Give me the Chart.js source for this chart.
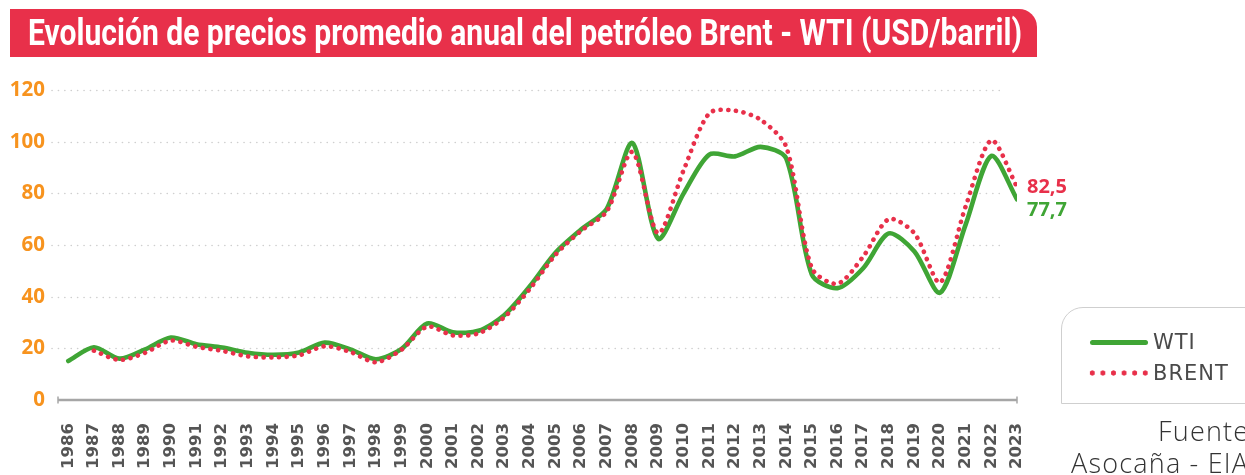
<!DOCTYPE html>
<html>
<head>
<meta charset="utf-8">
<script src="https://cdn.jsdelivr.net/npm/chart.js@4.4.1/dist/chart.umd.min.js"></script>
<style>
  html, body { margin: 0; padding: 0; background: #fff; overflow: hidden; }
  #wrap { position: relative; width: 1245px; height: 475px; overflow: hidden; }
  #titulo {
    position: absolute; left: 10px; top: 9px; width: 1027px; height: 48px;
    background: #E8304A; border-top-right-radius: 18px; overflow: hidden;
  }
  #titulo span {
    position: absolute; left: 18px; top: 4px; color: #fff; white-space: nowrap;
    font: bold 36px Roboto, "DejaVu Sans", sans-serif; line-height: 40px;
    transform-origin: left center;
  }
  #grafico { position: absolute; left: 0; top: 0; }
  #leyenda {
    position: absolute; left: 1061px; top: 307px; width: 220px; height: 95px;
    border: 1.5px solid #cfcfcf; border-top-left-radius: 22px; background: #fff;
  }
  .muestra { position: absolute; left: 28px; }
  #mWti { top: 32px; width: 58px; height: 5px; background: #3FA535; border-radius: 3px; }
  #mBrent {
    top: 62px; left: 25px; width: 64px; height: 6px;
    background-image: radial-gradient(circle, #E8304A 2.3px, transparent 2.9px);
    background-size: 10.6px 6px;
  }
  .etq {
    position: absolute; left: 91px; color: #4a4a4a; letter-spacing: 1px;
    font: 21px "DejaVu Sans", sans-serif; line-height: 24px;
  }
  .fuente {
    position: absolute; color: #333; white-space: nowrap; letter-spacing: 1.2px;
    font: 300 27px "Open Sans", Lato, sans-serif; line-height: 30px;
  }
</style>
</head>
<body>
<div id="wrap">
  <canvas id="grafico" width="1245" height="475"></canvas>
  <div id="titulo"><span id="tituloTxt">Evolución de precios promedio anual del petróleo Brent - WTI (USD/barril)</span></div>
  <div id="leyenda">
    <div class="muestra" id="mWti"></div>
    <div class="etq" style="top:22px">WTI</div>
    <div class="muestra" id="mBrent"></div>
    <div class="etq" style="top:53px">BRENT</div>
  </div>
  <div class="fuente" style="left:1158px; top:416px">Fuente:</div>
  <div class="fuente" style="left:1071px; top:448px">Asocaña - EIA</div>
</div>
<script>
// datos
const anios = [1986, 1987, 1988, 1989, 1990, 1991, 1992, 1993, 1994, 1995,
  1996, 1997, 1998, 1999, 2000, 2001, 2002, 2003, 2004, 2005,
  2006, 2007, 2008, 2009, 2010, 2011, 2012, 2013, 2014, 2015,
  2016, 2017, 2018, 2019, 2020, 2021, 2022, 2023];

const wti = [15.1, 20.4, 16.0, 19.6, 24.2, 21.6, 20.3, 18.3, 17.5, 18.4,
  22.2, 19.6, 15.8, 19.8, 29.6, 26.2, 26.8, 32.8, 44.0, 57.0,
  66.0, 74.0, 99.5, 62.5, 80.0, 95.0, 94.3, 98.0, 93.5, 48.5,
  43.3, 51.0, 64.5, 57.5, 41.5, 68.0, 94.5, 77.7];

const brent = [null, 19.1, 15.5, 18.3, 23.0, 20.6, 19.0, 16.9, 16.5, 17.3,
  20.8, 18.6, 14.6, 19.5, 28.4, 25.0, 25.8, 32.0, 43.0, 56.2,
  65.5, 73.0, 96.0, 64.5, 89.0, 111.0, 112.0, 108.5, 98.0, 51.0,
  45.0, 55.5, 70.0, 64.5, 45.5, 75.0, 100.5, 82.5];

const ticksY = [0, 20, 40, 60, 80, 100, 120];

const verde = '#3FA535';
const rojo = '#E8304A';

// ajustar el ancho del titulo
const tit = document.getElementById('tituloTxt');
const anchoTit = tit.getBoundingClientRect().width;
tit.style.transform = 'scaleX(' + (994 / anchoTit) + ')';

// lineas guia punteadas y eje x con topes
const guias = {
  id: 'guias',
  beforeDatasetsDraw(chart) {
    const ctx = chart.ctx;
    const y = chart.scales.y;
    const x = chart.scales.x;
    ctx.save();
    ctx.strokeStyle = '#cfcfcf';
    ctx.lineWidth = 1.6;
    ctx.lineCap = 'round';
    ctx.setLineDash([0.1, 6.3]);
    ticksY.forEach(v => {
      if (v === 0) return;
      const py = Math.round(y.getPixelForValue(v)) + 0.5;
      ctx.beginPath();
      ctx.moveTo(52, py);
      ctx.lineTo(1000, py);
      ctx.stroke();
    });
    ctx.setLineDash([]);
    ctx.lineCap = 'butt';
    const y0 = y.getPixelForValue(0);
    ctx.strokeStyle = '#a6a6a6';
    ctx.lineWidth = 2.5;
    ctx.beginPath();
    ctx.moveTo(x.left, y0);
    ctx.lineTo(x.right, y0);
    ctx.stroke();
    ctx.lineWidth = 1.5;
    [x.left, x.right].forEach(px => {
      ctx.beginPath();
      ctx.moveTo(px, y0 - 3.5);
      ctx.lineTo(px, y0 + 3.5);
      ctx.stroke();
    });
    ctx.restore();
  },
  afterDatasetsDraw(chart) {
    // etiquetas del ultimo valor
    const ctx = chart.ctx;
    ctx.save();
    ctx.font = 'bold 20px "Open Sans", sans-serif';
    ctx.textBaseline = 'middle';
    const desfase = [0, 11];
    chart.data.datasets.forEach((ds, i) => {
      const meta = chart.getDatasetMeta(i);
      const p = meta.data[meta.data.length - 1];
      const v = ds.data[ds.data.length - 1].y;
      ctx.fillStyle = ds.borderColor;
      ctx.fillText(v.toFixed(1).replace('.', ','), p.x + 10, p.y + desfase[i]);
    });
    ctx.restore();
  }
};

const ctx = document.getElementById('grafico').getContext('2d');
const chart = new Chart(ctx, {
  type: 'line',
  data: {
    datasets: [{
      label: 'BRENT',
      data: anios.map((a, i) => ({ x: a, y: brent[i] })),
      borderColor: rojo,
      borderWidth: 4.6,
      borderDash: [0.1, 7.6],
      borderCapStyle: 'round',
      pointRadius: 0,
      tension: 0.28,
      fill: false,
      order: 0
    }, {
      label: 'WTI',
      data: anios.map((a, i) => ({ x: a, y: wti[i] })),
      borderColor: verde,
      borderWidth: 4.6,
      borderCapStyle: 'round',
      borderJoinStyle: 'round',
      pointRadius: 0,
      tension: 0.28,
      fill: false,
      order: 1
    }]
  },
  options: {
    responsive: false,
    animation: false,
    layout: { padding: { left: 0, top: 90, right: 228, bottom: 0 } },
    plugins: { legend: { display: false }, tooltip: { enabled: false } },
    scales: {
      x: {
        type: 'linear',
        min: 1985.6,
        max: 2023,
        afterBuildTicks: s => { s.ticks = anios.map(v => ({ value: v })); },
        afterFit: s => { s.height = 75; },
        grid: { display: false, drawTicks: false },
        border: { display: false },
        ticks: {
          autoSkip: false,
          minRotation: 90,
          maxRotation: 90,
          padding: 23,
          color: '#555',
          font: { family: 'DejaVu Sans', weight: 'bold', size: 16.5 },
          callback: v => String(v)
        }
      },
      y: {
        min: 0,
        max: 120,
        afterBuildTicks: s => { s.ticks = ticksY.map(v => ({ value: v })); },
        afterFit: s => { s.width = 58; },
        grid: { display: false, drawTicks: false },
        border: { display: false },
        ticks: {
          padding: 13,
          color: '#F7931E',
          font: { family: 'Open Sans', weight: 'bold', size: 20.5 }
        }
      }
    }
  },
  plugins: [guias]
});
</script>
</body>
</html>
